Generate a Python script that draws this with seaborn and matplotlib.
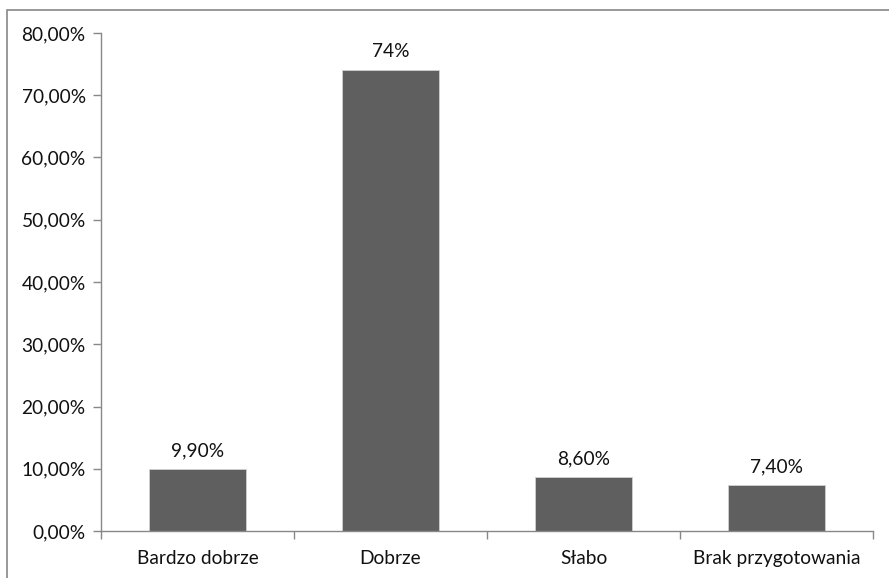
import matplotlib
matplotlib.use("Agg")
import matplotlib.pyplot as plt
from matplotlib.patches import Rectangle
from matplotlib.ticker import FuncFormatter, FixedLocator
import seaborn as sns
import pandas as pd

categories = ["Bardzo dobrze", "Dobrze", "Słabo", "Brak przygotowania"]
values = [9.9, 74.0, 8.6, 7.4]
value_labels = ["9,90%", "74%", "8,60%", "7,40%"]
y_ticks = [0, 10, 20, 30, 40, 50, 60, 70, 80]

sns.set_theme(style="white")
plt.rcParams["font.family"] = ["Lato", "DejaVu Sans"]

df = pd.DataFrame({"kategoria": categories, "procent": values})

fig = plt.figure(figsize=(8.89, 5.78), dpi=100)
ax = fig.add_axes([101 / 889, 1 - 531 / 578, (873 - 101) / 889, (531 - 33) / 578])

sns.barplot(data=df, x="kategoria", y="procent", color="#5f5f5f",
            saturation=1, width=0.5, ax=ax)
for p in ax.patches:
    p.set_edgecolor("#d0d0d0")
    p.set_linewidth(0.6)

for i, (v, lab) in enumerate(zip(values, value_labels)):
    ax.text(i, v + 1.6, lab, ha="center", va="bottom", fontsize=13.8, color="#111111")

ax.set_xlim(-0.5, len(categories) - 0.5)
ax.set_ylim(0, 80)
ax.set_yticks(y_ticks)
ax.yaxis.set_major_formatter(FuncFormatter(lambda v, _: f"{v:.2f}".replace(".", ",") + "%"))
ax.set_xlabel("")
ax.set_ylabel("")

ax.xaxis.set_minor_locator(FixedLocator([i - 0.5 for i in range(len(categories) + 1)]))
ax.tick_params(axis="x", which="major", length=0, pad=14, labelsize=13.8, labelcolor="#111111")
ax.tick_params(axis="x", which="minor", length=6, width=1, color="#888888", direction="out")
ax.tick_params(axis="y", which="major", length=6, width=1, color="#888888", direction="out",
               pad=5, labelsize=13.8, labelcolor="#111111")
ax.tick_params(axis="x", which="minor", bottom=True)
ax.tick_params(axis="y", left=True)

for side in ["top", "right"]:
    ax.spines[side].set_visible(False)
for side in ["left", "bottom"]:
    ax.spines[side].set_color("#888888")
    ax.spines[side].set_linewidth(1)

fig.patches.append(Rectangle((7 / 889, -0.05), 1.0, 1 - 10 / 578 + 0.05,
                             transform=fig.transFigure, fill=False,
                             edgecolor="#888888", linewidth=1.2))

fig.savefig("out.png", dpi=100)
